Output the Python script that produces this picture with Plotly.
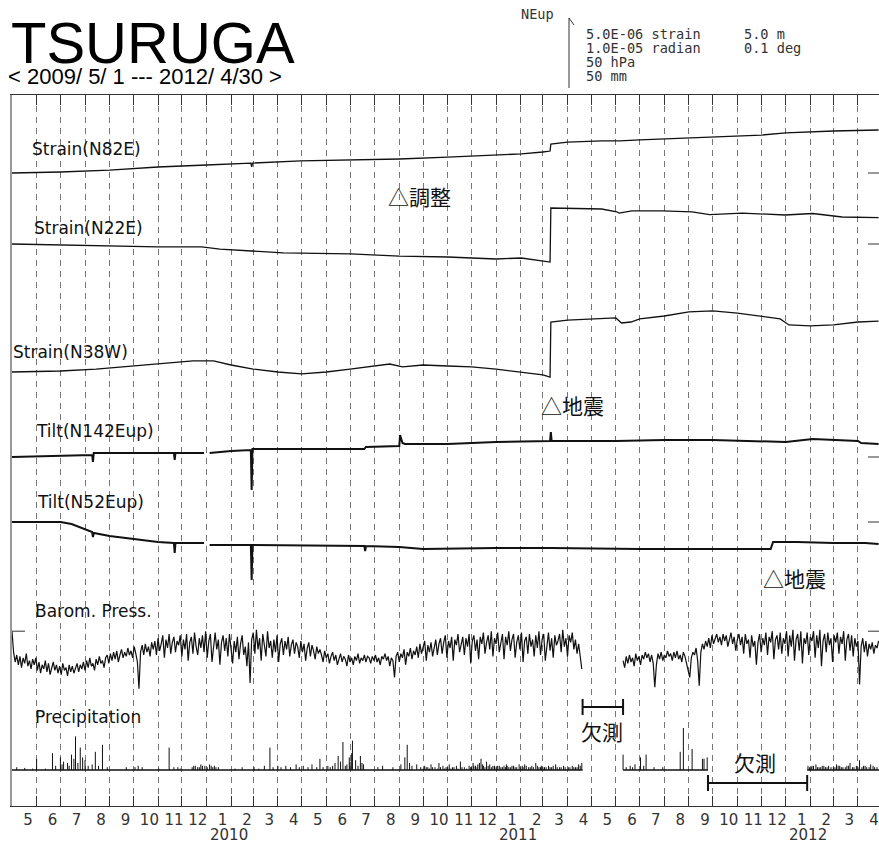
import pandas as pd
import plotly.graph_objects as go

# ---------------- data ----------------
# Strain (unit: 1e-6 strain, relative to start)
n82e_dates = ["2009-05-01", "2009-07-01", "2009-09-01", "2009-11-01", "2010-01-01", "2010-02-26",
              "2010-02-27", "2010-02-28", "2010-04-30", "2010-07-01", "2010-09-01", "2010-11-01",
              "2011-01-01", "2011-02-02", "2011-03-01", "2011-03-10", "2011-03-11", "2011-04-01",
              "2011-05-14", "2011-06-06", "2011-07-01", "2011-08-01", "2011-09-15", "2011-11-01",
              "2011-12-01", "2012-01-01", "2012-02-01", "2012-03-01", "2012-04-27"]
n82e_vals = [0.00, 0.07, 0.21, 0.43, 0.57, 0.71, 0.43, 0.71, 0.86, 0.93, 1.00, 1.14,
             1.29, 1.36, 1.50, 1.57, 2.07, 2.21, 2.29, 2.29, 2.36, 2.43, 2.50, 2.64,
             2.71, 2.86, 2.93, 3.00, 3.07]

n22e_dates = ["2009-05-01", "2009-07-01", "2009-09-01", "2009-11-01", "2009-12-26", "2010-01-18",
              "2010-02-27", "2010-04-08", "2010-07-01", "2010-09-01", "2010-11-01", "2011-01-01",
              "2011-02-02", "2011-03-01", "2011-03-10", "2011-03-11", "2011-04-15", "2011-05-14",
              "2011-06-02", "2011-06-05", "2011-06-21", "2011-07-29", "2011-09-05", "2011-09-27",
              "2011-11-07", "2011-12-31", "2012-02-04", "2012-03-12", "2012-04-27"]
n22e_vals = [0.00, -0.07, -0.14, -0.21, -0.21, -0.36, -0.50, -0.64, -0.71, -0.86, -0.93, -1.07,
             -1.00, -1.21, -1.29, 2.57, 2.52, 2.50, 2.30, 2.21, 2.36, 2.36, 2.29, 2.10,
             2.21, 2.07, 2.18, 1.93, 1.88]

n38w_dates = ["2009-05-01", "2009-07-01", "2009-08-15", "2009-10-01", "2009-11-15", "2009-12-15",
              "2010-01-10", "2010-02-01", "2010-03-01", "2010-04-01", "2010-05-01", "2010-06-01",
              "2010-07-01", "2010-08-01", "2010-08-20", "2010-09-05", "2010-10-01", "2010-11-01",
              "2010-12-01", "2011-01-01", "2011-02-01", "2011-03-01", "2011-03-10", "2011-03-11",
              "2011-04-01", "2011-05-01", "2011-06-01", "2011-06-08", "2011-06-20", "2011-07-01",
              "2011-08-01", "2011-09-01", "2011-10-01", "2011-11-01", "2011-12-01", "2011-12-25",
              "2012-01-05", "2012-02-01", "2012-03-01", "2012-04-01", "2012-04-27"]
n38w_vals = [0.00, 0.07, 0.21, 0.43, 0.64, 0.79, 0.79, 0.50, 0.21, 0.00, -0.14, 0.00,
             0.21, 0.43, 0.57, 0.36, 0.50, 0.43, 0.36, 0.21, 0.00, -0.21, -0.36, 3.57,
             3.71, 3.79, 3.86, 3.50, 3.57, 3.79, 4.00, 4.29, 4.36, 4.21, 4.00, 3.79,
             3.36, 3.29, 3.36, 3.57, 3.64]

# Tilt (unit: 1e-6 radian, relative to start); None = missing
n142e_dates = ["2009-05-01", "2009-07-01", "2009-08-10", "2009-08-11", "2009-08-12", "2009-10-01",
               "2009-11-21", "2009-11-22", "2009-11-23", "2009-12-29", "2009-12-31", "2010-01-05",
               "2010-02-01", "2010-02-26", "2010-02-27", "2010-02-28", "2010-05-01", "2010-07-19",
               "2010-07-21", "2010-09-01", "2010-09-02", "2010-09-05", "2010-09-08", "2010-11-01",
               "2011-01-01", "2011-03-10", "2011-03-11", "2011-03-12", "2011-06-01", "2011-08-01",
               "2011-10-01", "2011-12-01", "2012-01-01", "2012-02-04", "2012-03-22", "2012-04-01",
               "2012-04-05", "2012-04-27"]
n142e_vals = [0.00, 0.14, 0.29, -0.71, 0.57, 0.57, 0.57, -0.43, 0.57, 0.57, None, 0.57,
              0.86, 1.00, -4.71, 1.14, 1.14, 1.14, 1.43, 1.57, 3.14, 2.00, 1.86, 1.86,
              2.14, 2.29, 3.57, 2.29, 2.29, 2.43, 2.43, 2.29, 2.14, 2.57, 2.29, 2.29,
              2.00, 1.86]

n52e_dates = ["2009-05-01", "2009-07-01", "2009-07-15", "2009-07-28", "2009-08-10", "2009-08-11",
              "2009-08-12", "2009-09-01", "2009-10-01", "2009-11-01", "2009-11-21", "2009-11-22",
              "2009-11-23", "2009-12-29", "2009-12-31", "2010-01-05", "2010-02-26", "2010-02-27",
              "2010-02-28", "2010-07-19", "2010-07-20", "2010-07-21", "2010-09-01", "2010-10-01",
              "2011-01-01", "2011-03-11", "2011-07-01", "2011-10-01", "2011-12-13", "2011-12-16",
              "2012-01-15", "2012-03-01", "2012-04-10", "2012-04-27"]
n52e_vals = [0.00, 0.00, -0.29, -0.86, -1.43, -2.14, -1.57, -2.00, -2.43, -2.86, -3.00, -4.43,
             -3.00, -3.00, None, -3.29, -3.29, -8.29, -3.29, -3.43, -4.14, -3.43, -3.57, -3.86,
             -3.71, -3.71, -3.86, -3.86, -3.86, -2.86, -2.86, -3.00, -3.00, -3.14]

# Barometric pressure (hPa), one value every 2 days
baro_start1 = "2009-05-01"
baro_vals1 = [
    1027, 1012, 1005, 1010, 1003, 1009, 1001, 1008, 1004, 1011, 1002, 1006, 1000, 1007, 1003,
    1008, 999, 1005, 997, 1003, 1000, 1006, 998, 1004, 996, 1001, 1005, 999, 1003, 997,
    1002, 996, 1004, 999, 1001, 995, 1003, 998, 1002, 997, 1000, 1004, 998, 1003, 1000,
    1005, 999, 1006, 1001, 1008, 1002, 1004, 999, 1007, 1003, 1009, 1004, 1006, 1001, 1008,
    1010, 1004, 1011, 1006, 1012, 1007, 1013, 1005, 1010, 1014, 1008, 1012, 1009, 1015, 1010,
    1013, 1008, 1016, 1011, 1005, 986, 1012, 1017, 1010, 1018, 1012, 1016, 1009, 1019, 1014,
    1020, 1010, 1022, 1013, 1018, 1024, 1008, 1021, 1015, 1025, 1011, 1019, 1023, 1012, 1020,
    1017, 1024, 1009, 1021, 1014, 1025, 1006, 1019, 1023, 1011, 1026, 1016, 1010, 1022, 1015,
    1024, 1012, 1027, 1008, 1020, 1025, 1005, 1018, 1026, 1014, 1021, 1003, 1019, 1024, 1013,
    1022, 1009, 1025, 1015, 1004, 1020, 1012, 1023, 1007, 1018, 1024, 1010, 1016, 1002, 1019,
    990, 1021, 1026, 1011, 1028, 1014, 1022, 1006, 1025, 1017, 1009, 1027, 1015, 1020, 1008,
    1021, 1012, 1024, 1005, 1018, 1022, 1010, 1020, 1014, 1023, 1009, 1017, 1021, 1011, 1019,
    1016, 1008, 1020, 1012, 1018, 1006, 1015, 1019, 1009, 1017, 1013, 1007, 1016, 1011, 1014,
    1010, 1005, 1013, 1008, 1011, 1004, 1009, 1012, 1006, 1010, 1003, 1008, 1011, 1005, 1009,
    1007, 1002, 1010, 1005, 1008, 1003, 1009, 1006, 1011, 1004, 1008, 1006, 1010, 1005, 1009,
    1008, 1004, 1009, 1006, 1010, 1005, 1008, 1003, 1009, 1007, 1011, 1006, 1009, 1002, 1008,
    1006, 994, 1009, 1012, 1005, 1011, 1008, 1014, 1003, 1012, 1009, 1015, 1007, 1013, 1010,
    1016, 1008, 1018, 1011, 1015, 1020, 1006, 1017, 1012, 1019, 1009, 1016, 1021, 1010, 1018,
    1022, 1011, 1019, 1024, 1008, 1020, 1015, 1023, 1006, 1021, 1017, 1025, 1012, 1019, 1023,
    1010, 1022, 1016, 1025, 1004, 1020, 1024, 1013, 1021, 1007, 1023, 1018, 1026, 1011, 1019,
    1024, 1014, 1027, 1009, 1022, 1018, 1026, 1012, 1020, 1025, 1007, 1023, 1017, 1027, 1013,
    1021, 1025, 1008, 1019, 1024, 1014, 1026, 1005, 1020, 1023, 1011, 1025, 1016, 1021, 1009,
    1024, 1015, 1027, 1010, 1021, 1025, 1006, 1019, 1026, 1013, 1022, 1008, 1024, 1017, 1020,
    1025, 1012, 1028, 1016, 1022, 1009, 1024, 1019, 1026, 1014, 1021, 1011, 1018, 1007, 1000,
]
baro_start2 = "2011-06-10"
baro_vals2 = [
    1006, 1001, 1009, 1004, 1010, 1005, 1008, 1002, 1011, 1006, 1009, 1003, 1010, 1007, 1012,
    1008, 1011, 1005, 1010, 1004, 987, 1003, 1011, 1007, 1012, 1006, 1010, 1008, 1013, 1009,
    1011, 1006, 1012, 1008, 1013, 1007, 1010, 1005, 1012, 1009, 1004, 998, 994, 1008, 1012,
    1010, 1015, 1006, 988, 1012, 1018, 1014, 1020, 1016, 1022, 1015, 1024, 1018, 1021, 1025,
    1019, 1023, 1017, 1025, 1020, 1024, 1016, 1022, 1026, 1018, 1023, 1013, 1021, 1025, 1017,
    1023, 1011, 1025, 1018, 1021, 1008, 1024, 1016, 1020, 1003, 1019, 1025, 1012, 1022, 1017,
    1026, 1010, 1023, 1019, 1027, 1007, 1021, 1024, 1014, 1026, 1011, 1022, 1018, 1027, 1009,
    1024, 1016, 1028, 1006, 1021, 1025, 1013, 1027, 1004, 1022, 1018, 1026, 1010, 1023, 1020,
    1027, 1008, 1024, 1015, 1028, 1002, 1020, 1025, 1012, 1026, 1017, 1022, 1005, 1024, 1019,
    1026, 1011, 1023, 1018, 1027, 1006, 1021, 1025, 1013, 1024, 1009, 1022, 1016, 1020, 989,
    1016, 1022, 1012, 1020, 1009, 1018, 1014, 1019, 1011, 1017, 1015, 1020,
]

# Precipitation (mm) events
precip_dates = [
    "2009-05-07", "2009-05-17", "2009-05-27", "2009-06-01", "2009-06-12", "2009-06-21", "2009-07-01",
    "2009-07-05", "2009-07-10", "2009-07-15", "2009-07-20", "2009-07-26", "2009-07-29", "2009-08-01",
    "2009-08-05", "2009-08-14", "2009-08-23", "2009-08-29", "2009-09-22", "2009-10-03", "2009-10-07",
    "2009-10-12", "2009-11-02", "2009-11-15", "2009-11-21", "2009-11-26", "2009-11-29", "2009-12-16",
    "2009-12-21", "2009-12-25", "2009-12-30",
    "2010-01-05", "2010-01-09", "2010-01-11", "2010-02-06", "2010-02-15", "2010-03-02", "2010-03-08",
    "2010-03-15", "2010-03-22", "2010-03-26", "2010-04-01", "2010-04-05", "2010-04-11", "2010-04-17",
    "2010-04-24", "2010-04-28", "2010-05-03", "2010-05-09", "2010-05-14", "2010-05-20", "2010-05-24",
    "2010-05-28", "2010-06-03", "2010-06-12", "2010-06-16", "2010-06-19", "2010-06-22", "2010-06-27",
    "2010-06-30", "2010-07-03", "2010-07-04", "2010-07-08", "2010-07-14", "2010-07-18", "2010-08-05",
    "2010-08-11", "2010-08-24", "2010-09-03", "2010-09-08", "2010-09-11", "2010-09-14", "2010-09-17",
    "2010-09-23", "2010-09-28", "2010-10-03", "2010-10-07", "2010-10-11", "2010-10-16", "2010-10-21",
    "2010-10-26", "2010-10-30", "2010-11-03", "2010-11-07", "2010-11-12", "2010-11-17", "2010-11-22",
    "2010-11-28", "2010-12-03", "2010-12-06", "2010-12-09", "2010-12-13", "2010-12-16", "2010-12-20",
    "2010-12-24", "2010-12-28",
    "2011-01-03", "2011-01-07", "2011-01-11", "2011-01-14", "2011-01-17", "2011-01-21", "2011-01-25",
    "2011-01-30", "2011-02-03", "2011-02-06", "2011-02-11", "2011-02-15", "2011-02-20", "2011-02-24",
    "2011-02-27", "2011-03-03", "2011-03-08", "2011-03-12", "2011-03-17", "2011-03-22", "2011-03-27",
    "2011-04-02", "2011-04-07", "2011-04-11", "2011-04-15", "2011-04-19",
    "2011-06-10", "2011-06-14", "2011-06-19", "2011-06-22", "2011-06-25", "2011-07-02", "2011-07-06",
    "2011-07-09", "2011-07-19", "2011-07-30", "2011-08-21", "2011-08-25", "2011-09-05", "2011-09-18",
    "2011-09-20", "2011-09-24",
    "2012-01-29", "2012-02-02", "2012-02-05", "2012-02-08", "2012-02-12", "2012-02-16", "2012-02-20",
    "2012-02-24", "2012-03-01", "2012-03-05", "2012-03-09", "2012-03-13", "2012-03-18", "2012-03-22",
    "2012-03-27", "2012-04-03", "2012-04-08", "2012-04-12", "2012-04-17", "2012-04-22",
    # lighter rain days
    "2009-06-25", "2009-07-03", "2009-07-12", "2009-07-18", "2009-07-23", "2009-08-10", "2009-08-18",
    "2009-12-14", "2009-12-18", "2009-12-23", "2009-12-27", "2010-01-02", "2010-01-07", "2010-01-13",
    "2010-01-16", "2010-06-06", "2010-06-09", "2010-06-25", "2010-07-01", "2010-07-11", "2010-07-16",
    "2010-10-01", "2010-10-05", "2010-10-09", "2010-10-13", "2010-10-19", "2010-10-23", "2010-10-28",
    "2010-11-01", "2010-11-05", "2010-11-09", "2010-11-14", "2010-11-19", "2010-11-25", "2010-11-30",
    "2010-12-01", "2010-12-04", "2010-12-08", "2010-12-11", "2010-12-15", "2010-12-18", "2010-12-22",
    "2010-12-26", "2010-12-30", "2011-01-01", "2011-01-05", "2011-01-09", "2011-01-13", "2011-01-15",
    "2011-01-19", "2011-01-23", "2011-01-27", "2011-02-01", "2011-02-04", "2011-02-08", "2011-02-13",
    "2011-02-17", "2011-02-22", "2011-02-26", "2011-03-01", "2011-03-05", "2011-03-10", "2011-03-14",
    "2011-03-19", "2011-03-24", "2011-03-29", "2011-04-04", "2011-04-09", "2011-04-13", "2011-04-17",
    "2012-01-31", "2012-02-03", "2012-02-10", "2012-02-14", "2012-02-18", "2012-02-22", "2012-02-27",
    "2012-03-03", "2012-03-07", "2012-03-11", "2012-03-16", "2012-03-20", "2012-03-25", "2012-03-30",
    "2012-04-01", "2012-04-06", "2012-04-10", "2012-04-15", "2012-04-20", "2012-04-25",
]
precip_mm = [
    2, 1.5, 1, 8, 1, 12, 9, 6, 5, 11, 24, 16, 9, 7, 3, 13, 18, 2, 2, 2, 3, 2, 1, 16, 2, 2, 1, 3, 2, 4, 3,
    4, 2, 3, 1, 2, 2, 1, 3, 16, 2, 3, 2, 3, 2, 4, 2, 3, 2, 4, 2, 8, 2, 3, 5, 10, 6, 20, 4, 9, 12, 21, 7,
    10, 4, 2, 3, 2, 4, 9, 18, 5, 3, 4, 2, 3, 2, 4, 2, 5, 3, 2, 4, 2, 3, 6, 2, 3, 5, 3, 4, 8, 3, 6, 4, 3,
    3, 2, 3, 4, 2, 3, 2, 4, 3, 4, 2, 3, 5, 2, 3, 2, 3, 2, 4, 2, 3, 2, 3, 2, 4, 5,
    11, 2, 3, 2, 4, 9, 3, 11, 2, 2, 13, 30, 15, 8, 8, 9,
    3, 2, 3, 4, 2, 3, 2, 3, 2, 4, 3, 2, 3, 5, 2, 7, 3, 2, 4, 2,
    3, 4, 3, 8, 5, 4, 3,
    2, 3, 2, 3, 2, 3, 2, 2, 2, 3, 3, 6, 3, 5,
    1, 2, 1, 2, 1, 2, 1, 2, 1, 2, 1, 2, 1, 2,
    2, 3, 2, 5, 4, 2, 3, 2, 3, 2, 3, 2, 2, 3,
    2, 3, 2, 2, 2, 3, 2, 2, 3, 2, 2, 2, 2, 3,
    2, 2, 2, 2, 2, 2, 3,
    2, 3, 2, 2, 3, 2, 2, 2, 3, 2, 2, 3, 2, 3,
    2, 2, 3, 2, 3, 2,
]
# periods with precipitation observations / missing-data brackets
obs_starts = ["2009-05-01", "2011-06-10", "2012-01-28"]
obs_ends = ["2011-04-20", "2011-09-25", "2012-04-27 12:00"]
missing_starts = ["2011-04-20", "2011-09-25"]
missing_ends = ["2011-06-10", "2012-01-28"]
year_labels = ["2010", "2011", "2012"]
year_label_dates = ["2010-01-29", "2011-01-28", "2012-01-29"]

# ---------------- layout helpers (pixel geometry) ----------------
W, H = 879, 843
PL, PR, PT, PB = 12, 879, 95, 806
X_RANGE = ["2009-05-01", "2012-04-27 12:00"]
INK = "#111111"


def pxx(x):
    return (x - PL) / (PR - PL)


def pxy(y):
    return (PB - y) / (PB - PT)


def to_axis(vals, y0px, ppu, ref):
    # place a series on the shared vertical axis (pixels above the bottom frame)
    return [None if v is None else (PB - y0px) + (v - ref) * ppu for v in vals]


fig = go.Figure()

baro_x = (list(pd.date_range(baro_start1, periods=len(baro_vals1), freq="2D"))
          + [pd.Timestamp("2011-05-15")]
          + list(pd.date_range(baro_start2, periods=len(baro_vals2), freq="2D")))
baro_y = baro_vals1 + [None] + baro_vals2

px_list, py_list = [], []
for d, v in zip(precip_dates, precip_mm):
    px_list += [d, d, None]
    py_list += [0, v, None]
bx, by = [], []
for s, e in zip(obs_starts, obs_ends):
    bx += [s, e, None]
    by += [0, 0, None]

# (x, y, baseline pixel, pixels per unit, reference value, width, right tick)
series = [
    (n82e_dates, n82e_vals, 173, 14.0, 0.0, 1.3, True),
    (n22e_dates, n22e_vals, 244, 14.0, 0.0, 1.3, True),
    (n38w_dates, n38w_vals, 372, 14.0, 0.0, 1.3, False),
    (n142e_dates, n142e_vals, 457, 7.0, 0.0, 2.0, True),
    (n52e_dates, n52e_vals, 522, 7.0, 0.0, 2.0, True),
    (baro_x, baro_y, 655, 1.4, 1010.0, 1.2, False),
    (px_list, py_list, 770, 1.4, 0.0, 1.0, False),
    (bx, by, 770, 1.4, 0.0, 1.3, False),
]

shapes = []
for xs, ys, y0px, ppu, ref, lw, rtick in series:
    yy = to_axis(ys, y0px, ppu, ref)
    fig.add_trace(go.Scatter(x=xs, y=yy, mode="lines", connectgaps=False,
                             line=dict(color=INK, width=lw), hoverinfo="skip"))
    if rtick:
        shapes.append(dict(type="line", xref="paper", yref="y", x0=pxx(868), x1=1.0,
                           y0=yy[0], y1=yy[0], line=dict(color="#333", width=1)))
# barom reference ticks
b0 = to_axis([baro_vals1[0]], 655, 1.4, 1010.0)[0]
shapes.append(dict(type="line", xref="paper", yref="y", x0=0, x1=pxx(25),
                   y0=b0, y1=b0, line=dict(color="#333", width=1)))
shapes.append(dict(type="line", xref="paper", yref="y", x0=pxx(868), x1=1.0,
                   y0=b0, y1=b0, line=dict(color="#333", width=1)))

# missing-data brackets
for s, e, ypix in zip(missing_starts, missing_ends, [707, 783]):
    shapes.append(dict(type="line", xref="x", yref="paper", x0=s, x1=e, y0=pxy(ypix), y1=pxy(ypix),
                       line=dict(color=INK, width=2)))
    for d in (s, e):
        shapes.append(dict(type="line", xref="x", yref="paper", x0=d, x1=d,
                           y0=pxy(ypix - 8), y1=pxy(ypix + 8), line=dict(color=INK, width=2)))

# header arrow
shapes.append(dict(type="line", xref="paper", yref="paper", x0=pxx(569), x1=pxx(569),
                   y0=pxy(18), y1=pxy(88), line=dict(color="#333", width=1)))
shapes.append(dict(type="line", xref="paper", yref="paper", x0=pxx(569), x1=pxx(574),
                   y0=pxy(18), y1=pxy(25), line=dict(color="#333", width=1)))

annotations = []


def txt(s, x, y, size, family, color=INK):
    annotations.append(dict(text=s, xref="paper", yref="paper", x=pxx(x), y=pxy(y),
                            xanchor="left", yanchor="middle", showarrow=False,
                            borderpad=0, borderwidth=0,
                            font=dict(family=family, size=size, color=color)))


SANS = "Liberation Sans, Arial, sans-serif"
DJ = "DejaVu Sans, sans-serif"
MONO = "DejaVu Sans Mono, monospace"
CJK = "Noto Sans CJK JP, sans-serif"

txt("TSURUGA", 11, 43, 58, SANS, "#000")
txt("&lt; 2009/ 5/ 1 --- 2012/ 4/30 &gt;", 8, 76, 22, SANS, "#000")
txt("NEup", 521, 14, 13.6, MONO, "#333")
txt("5.0E-06 strain", 586, 34, 13.6, MONO, "#333")
txt("1.0E-05 radian", 586, 48, 13.6, MONO, "#333")
txt("50 hPa", 586, 62, 13.6, MONO, "#333")
txt("50 mm", 586, 76, 13.6, MONO, "#333")
txt("5.0 m", 744, 34, 13.6, MONO, "#333")
txt("0.1 deg", 744, 48, 13.6, MONO, "#333")

txt("Strain(N82E)", 32, 149, 17, DJ)
txt("Strain(N22E)", 34, 228, 17, DJ)
txt("Strain(N38W)", 13, 352, 17, DJ)
txt("Tilt(N142Eup)", 36, 431, 17, DJ)
txt("Tilt(N52Eup)", 37, 502, 17, DJ)
txt("Barom. Press.", 35, 611, 17, DJ)
txt("Precipitation", 35, 717, 17, DJ)

txt("△調整", 388, 196, 21, CJK)
txt("△地震", 541, 405, 21, CJK)
txt("△地震", 763, 578, 21, CJK)
txt("欠測", 581, 731, 21, CJK)
txt("欠測", 734, 762, 21, CJK)

for lab, d in zip(year_labels, year_label_dates):
    annotations.append(dict(text=lab, xref="x", yref="paper", x=d, y=pxy(835.5),
                            xanchor="center", yanchor="middle", showarrow=False,
                            font=dict(family=DJ, size=15, color="#333")))

fig.update_layout(
    width=W, height=H,
    margin=dict(l=PL, r=W - PR, t=PT, b=H - PB, pad=0),
    paper_bgcolor="white", plot_bgcolor="white", showlegend=False,
    hovermode=False,
    xaxis=dict(type="date", range=X_RANGE, dtick="M1", tick0="2009-05-01",
               tickformat="%-m", ticklabelshift=16, ticklabelstandoff=0,
               ticks="inside", ticklen=10, tickcolor="#333", tickwidth=1,
               showline=True, linecolor="#333", linewidth=1, mirror="ticks",
               showgrid=True, gridcolor="#777", gridwidth=1, griddash="6px,5px",
               zeroline=False, fixedrange=True,
               tickfont=dict(family=DJ, size=15, color="#333")),
    yaxis=dict(range=[0, PB - PT], showline=True, linecolor="#999", linewidth=2,
               showgrid=False, zeroline=False, showticklabels=False, ticks="",
               fixedrange=True),
    shapes=shapes,
    annotations=annotations,
)

fig.write_html("out.html", config={"displayModeBar": False},
               post_script="document.body.style.margin='0';")
